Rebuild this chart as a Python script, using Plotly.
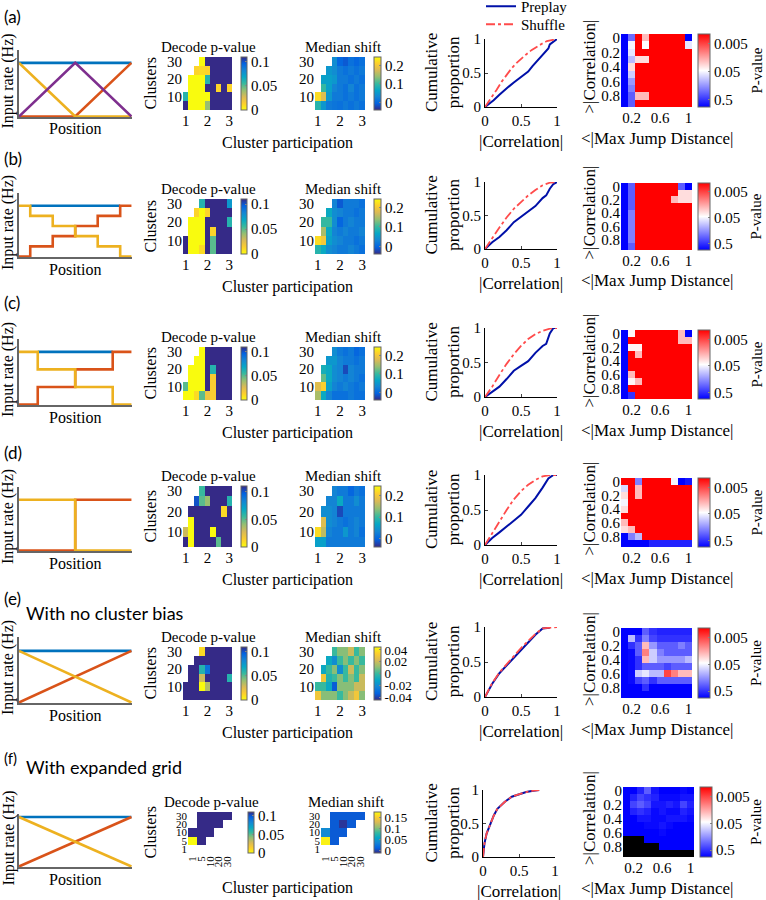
import plotly.graph_objects as go
import numpy as np

N = None
B = 0.12   # decode p-values above the colour range (dark blue)
W, H = 766, 900

# ---------------- data ----------------
PARTICIPATION = [1, 1.25, 1.5, 1.75, 2, 2.25, 2.5, 2.75, 3]
CLUSTERS = [5, 10, 15, 20, 25, 30]
GRID_F = [0, 1, 2, 3, 4]
GRID_F_LABELS = ['1', '5', '10', '20', '30']
JUMP = [0.1, 0.2, 0.3, 0.4, 0.5, 0.6, 0.7, 0.8, 0.9, 1.0]
CORR = [0.0, 0.1, 0.2, 0.3, 0.4, 0.5, 0.6, 0.7, 0.8, 0.9]

# decode p-value (rows: clusters 5..30, cols: participation 1..3)
DECODE_A = [[B, 0.0, 0.0, 0.0, 0.04, B, B, B, B],
            [0.06, 0.0, 0.0, 0.0, 0.0, B, B, B, B],
            [N, 0.0, 0.0, 0.0, B, B, 0.012, B, 0.012],
            [N, 0.0, 0.0, 0.0, 0.06, B, B, B, B],
            [N, N, 0.012, 0.01, 0.012, B, B, B, B],
            [N, N, N, 0.0, B, B, B, B, B]]
DECODE_B = [[B, 0.0, 0.0, 0.01, B, 0.05, B, B, B],
            [B, 0.0, 0.0, 0.0, B, 0.05, B, B, B],
            [N, 0.0, 0.0, 0.0, B, 0.012, B, B, B],
            [N, 0.0, 0.0, 0.0, B, B, B, B, 0.06],
            [N, N, 0.012, 0.0, 0.012, B, B, B, B],
            [N, N, N, 0.06, B, B, B, B, 0.075]]
DECODE_C = [[0.0, 0.0, 0.01, 0.05, 0.02, 0.015, B, B, B],
            [0.05, 0.0, 0.0, 0.0, B, 0.015, B, B, B],
            [N, 0.0, 0.0, 0.0, B, 0.015, B, B, B],
            [N, 0.0, 0.0, 0.0, B, 0.06, B, B, B],
            [N, N, 0.0, 0.0, B, B, B, B, B],
            [N, N, N, 0.0, B, B, B, B, B]]
DECODE_D = [[B, 0.0, B, B, B, B, 0.05, B, B],
            [0.03, 0.0, B, B, B, 0.0, B, B, B],
            [N, 0.0, B, B, B, B, B, B, B],
            [N, B, B, B, B, B, B, 0.01, B],
            [N, N, 0.1, 0.05, 0.04, B, B, B, 0.06],
            [N, N, N, 0.055, B, B, B, B, B]]
DECODE_E = [[B, B, B, B, B, B, B, B, B],
            [B, B, B, 0.0, 0.035, B, B, B, B],
            [N, B, B, 0.03, B, B, B, B, 0.06],
            [N, B, B, 0.06, 0.09, B, B, B, B],
            [N, N, B, B, B, B, B, B, B],
            [N, N, N, 0.01, B, B, B, B, B]]
DECODE_F = [[N, N, N, N, N],
            [0.0, B, N, N, N],
            [B, B, B, N, N],
            [N, B, B, B, N],
            [N, B, B, B, B]]

# median shift
MEDIAN_A = [[0.09, 0.05, 0.02, 0.015, 0.01, 0.02, 0.01, 0.02, 0.01],
            [0.22, 0.18, 0.05, 0.02, 0.02, 0.01, 0.02, 0.01, 0.02],
            [N, 0.1, 0.06, 0.03, 0.02, 0.01, 0.03, 0.01, 0.02],
            [N, 0.06, 0.06, 0.05, 0.02, 0.02, 0.01, 0.02, 0.01],
            [N, N, 0.05, 0.04, 0.02, 0.01, 0.02, 0.01, 0.02],
            [N, N, N, 0.04, 0.0, -0.01, 0.01, 0.0, 0.01]]
MEDIAN_B = [[0.09, 0.07, 0.04, 0.03, 0.02, 0.02, 0.03, 0.02, 0.01],
            [0.22, 0.2, 0.06, 0.04, 0.03, 0.02, 0.02, 0.01, 0.02],
            [N, 0.15, 0.07, 0.03, 0.02, 0.03, 0.02, 0.02, 0.03],
            [N, 0.1, 0.1, 0.04, 0.0, 0.02, 0.03, 0.02, 0.02],
            [N, N, 0.07, 0.04, 0.03, 0.02, 0.02, 0.01, 0.02],
            [N, N, N, 0.03, -0.01, 0.02, 0.02, 0.02, 0.01]]
MEDIAN_C = [[0.15, 0.07, 0.03, 0.01, 0.01, 0.01, 0.02, 0.01, 0.01],
            [0.18, 0.21, 0.06, 0.03, 0.02, 0.03, 0.02, 0.01, 0.02],
            [N, 0.12, 0.07, 0.04, 0.03, 0.02, 0.03, 0.02, 0.01],
            [N, 0.08, 0.07, 0.04, 0.03, -0.02, 0.03, 0.02, 0.02],
            [N, N, 0.05, 0.05, 0.03, 0.02, 0.02, 0.01, 0.02],
            [N, N, N, 0.04, 0.02, 0.01, 0.02, 0.0, 0.01]]
MEDIAN_D = [[0.06, 0.06, 0.02, 0.02, 0.02, 0.02, 0.02, 0.02, 0.02],
            [0.22, 0.16, 0.03, 0.02, 0.02, 0.05, 0.02, 0.03, 0.01],
            [N, 0.18, 0.04, 0.03, 0.02, 0.01, 0.02, 0.03, 0.02],
            [N, 0.04, 0.04, 0.03, -0.02, 0.02, 0.02, 0.02, 0.02],
            [N, N, 0.03, 0.03, 0.07, 0.02, 0.02, 0.04, 0.02],
            [N, N, N, 0.03, 0.02, 0.02, 0.0, 0.02, 0.01]]
MEDIAN_E = [[0.03, 0.01, 0.01, 0.01, 0.0, 0.01, 0.02, 0.03, 0.01],
            [0.0, 0.0, -0.01, -0.035, 0.01, 0.01, 0.01, 0.02, 0.02],
            [N, 0.03, -0.005, 0.0, 0.01, 0.0, 0.01, 0.0, 0.02],
            [N, -0.01, 0.0, 0.01, -0.02, 0.0, 0.02, 0.0, 0.01],
            [N, N, -0.01, -0.02, 0.0, 0.01, 0.0, 0.01, 0.0],
            [N, N, N, 0.0, 0.01, 0.01, 0.02, 0.0, 0.01]]
MEDIAN_F = [[N, N, N, N, N],
            [0.17, 0.01, N, N, N],
            [0.04, 0.01, 0.01, N, N],
            [N, 0.01, -0.005, 0.01, N],
            [N, 0.01, 0.01, 0.01, 0.01]]

# p-value maps (rows: |correlation| 0..0.9, cols: jump 0.1..1.0)
R = 0.001
PVAL_A = [[0.9, 0.25, R, 0.02, R, R, R, R, R, 0.9],
          [0.9, 0.05, R, 0.045, R, R, R, R, R, 0.06],
          [0.9, 0.06, R, R, R, R, R, R, R, R],
          [0.9, 0.1, 0.03, 0.03, R, R, R, R, R, R],
          [0.9, 0.03, R, R, R, R, R, R, R, R],
          [0.9, 0.08, R, R, R, R, R, R, R, R],
          [0.9, 0.15, R, R, R, R, R, R, R, R],
          [0.9, 0.2, R, R, R, R, R, R, R, R],
          [0.9, 0.3, 0.02, 0.02, R, R, R, R, R, R],
          [0.9, 0.3, R, R, R, R, R, R, R, R]]
PVAL_B = [[0.9, 0.3, R, R, R, R, R, R, 0.3, 0.9],
          [0.9, 0.3, R, R, R, R, R, R, 0.03, 0.03],
          [0.9, 0.3, R, R, R, R, R, 0.02, 0.03, 0.03],
          [0.9, 0.3, R, R, R, R, R, R, R, R],
          [0.9, 0.2, R, R, R, R, R, R, R, R],
          [0.9, 0.2, R, R, R, R, R, R, R, R],
          [0.9, 0.2, R, R, R, R, R, R, R, R],
          [0.9, 0.2, R, R, R, R, R, R, R, R],
          [0.9, 0.2, R, R, R, R, R, R, R, R],
          [0.9, 0.3, R, R, R, R, R, R, R, R]]
PVAL_C = [[0.9, 0.04, R, R, R, R, R, R, 0.02, 0.9],
          [0.9, R, R, R, R, R, R, R, 0.02, 0.02],
          [0.9, 0.04, 0.04, R, R, R, R, R, R, R],
          [0.9, R, 0.02, R, R, R, R, R, R, R],
          [0.9, R, R, R, R, R, R, R, R, R],
          [0.9, R, R, R, R, R, R, R, R, R],
          [0.9, 0.02, R, R, R, R, R, R, R, R],
          [0.9, 0.04, 0.02, R, R, R, R, R, R, R],
          [0.9, R, R, R, R, R, R, R, R, R],
          [0.9, 0.5, R, R, R, R, R, R, R, R]]
PVAL_D = [[R, R, 0.2, R, R, R, R, 0.05, 0.9, 0.7],
          [0.07, R, 0.02, R, R, R, R, R, R, R],
          [0.03, R, 0.02, R, R, R, R, R, R, R],
          [0.05, R, R, R, R, R, R, R, R, R],
          [0.03, R, R, R, R, R, R, R, R, R],
          [R, R, R, R, R, R, R, R, R, R],
          [0.02, R, R, R, R, R, R, R, R, R],
          [0.03, 0.02, R, R, R, R, R, R, R, R],
          [0.9, 0.2, 0.1, R, R, R, R, R, R, R],
          [0.9, 0.9, 0.9, 0.9, 0.6, 0.6, 0.6, 0.6, 0.6, 0.6]]
PVAL_E = [[0.9, 0.9, 0.9, 0.3, 0.5, 0.6, 0.6, 0.6, 0.6, 0.6],
          [0.9, 0.1, 0.5, 0.2, 0.4, 0.5, 0.5, 0.5, 0.5, 0.5],
          [0.9, 0.5, 0.3, 0.02, 0.15, 0.3, 0.3, 0.3, 0.2, 0.3],
          [0.9, 0.8, 0.3, 0.01, 0.08, 0.2, 0.3, 0.3, 0.3, 0.3],
          [0.9, 0.8, 0.5, 0.02, 0.08, 0.15, 0.15, 0.15, 0.15, 0.1],
          [0.9, 0.8, 0.5, 0.3, 0.3, 0.3, 0.4, 0.3, 0.3, 0.3],
          [0.9, 0.8, 0.08, 0.06, 0.1, 0.1, 0.005, 0.01, 0.02, 0.02],
          [0.9, 0.8, 0.4, 0.3, 0.5, 0.3, 0.3, 0.3, 0.3, 0.3],
          [0.9, 0.9, 0.9, 0.5, 0.9, 0.9, 0.9, 0.9, 0.9, 0.9],
          [0.9, 0.9, 0.9, 0.9, 0.9, 0.9, 0.9, 0.9, 0.9, 0.9]]
PVAL_F = [[0.9, 0.9, 0.6, 0.3, 0.7, 0.9, 0.9, 0.9, 0.8, 0.9],
          [0.9, 0.6, 0.4, 0.5, 0.6, 0.8, 0.8, 0.8, 0.7, 0.7],
          [0.9, 0.4, 0.3, 0.4, 0.7, 0.7, 0.6, 0.7, 0.4, 0.6],
          [0.9, 0.6, 0.5, 0.6, 0.8, 0.7, 0.8, 0.8, 0.6, 0.7],
          [0.9, 0.9, 0.7, 0.7, 0.8, 0.8, 0.7, 0.7, 0.7, 0.8],
          [0.9, 0.9, 0.9, 0.8, 0.8, 0.7, 0.8, 0.9, 0.9, 0.9],
          [0.9, 0.9, 0.9, 0.9, 0.9, 0.8, 0.9, 0.9, 0.9, 0.9],
          [N, N, N, 0.9, 0.9, 0.9, 0.9, 0.9, 0.9, 0.9],
          [N, N, N, N, N, 0.9, 0.9, 0.9, 0.9, 0.9],
          [N, N, N, N, N, N, N, N, N, N]]

# cumulative proportions
PRE_A_X = [0, 0.05, 0.12, 0.2, 0.26, 0.33, 0.4, 0.45, 0.51, 0.56, 0.6, 0.66, 0.72, 0.78, 0.84, 0.88, 0.9, 0.95, 0.97, 1.0]
PRE_A_Y = [0, 0.04, 0.1, 0.18, 0.24, 0.3, 0.36, 0.4, 0.44, 0.48, 0.52, 0.6, 0.67, 0.73, 0.8, 0.86, 0.92, 0.96, 0.98, 1.0]
SHF_A_X = [0, 0.08, 0.16, 0.23, 0.3, 0.37, 0.44, 0.51, 0.58, 0.65, 0.72, 0.79, 0.86, 0.93, 1.0]
SHF_A_Y = [0, 0.12, 0.25, 0.37, 0.47, 0.57, 0.65, 0.72, 0.78, 0.84, 0.89, 0.93, 0.97, 0.99, 1.0]
PRE_B_X = [0, 0.05, 0.1, 0.2, 0.3, 0.4, 0.45, 0.5, 0.6, 0.7, 0.8, 0.85, 0.9, 0.95, 1.0]
PRE_B_Y = [0, 0.05, 0.1, 0.18, 0.28, 0.4, 0.44, 0.48, 0.56, 0.64, 0.76, 0.8, 0.9, 0.97, 1.0]
SHF_B_X = [0, 0.1, 0.2, 0.3, 0.4, 0.5, 0.6, 0.7, 0.8, 0.9, 1.0]
SHF_B_Y = [0, 0.17, 0.32, 0.47, 0.6, 0.7, 0.8, 0.88, 0.95, 0.99, 1.0]
PRE_C_X = [0, 0.05, 0.1, 0.2, 0.3, 0.4, 0.5, 0.6, 0.7, 0.8, 0.85, 0.9, 0.95, 1.0]
PRE_C_Y = [0, 0.04, 0.08, 0.15, 0.26, 0.38, 0.45, 0.52, 0.64, 0.74, 0.77, 0.92, 1.0, 1.0]
SHF_C_X = [0, 0.1, 0.2, 0.3, 0.4, 0.5, 0.6, 0.7, 0.8, 0.9, 1.0]
SHF_C_Y = [0, 0.15, 0.32, 0.48, 0.62, 0.74, 0.84, 0.91, 0.96, 0.99, 1.0]
PRE_D_X = [0, 0.05, 0.1, 0.2, 0.3, 0.4, 0.5, 0.6, 0.7, 0.8, 0.88, 0.95, 1.0]
PRE_D_Y = [0, 0.05, 0.1, 0.18, 0.26, 0.34, 0.43, 0.55, 0.67, 0.82, 0.95, 1.0, 1.0]
SHF_D_X = [0, 0.1, 0.2, 0.3, 0.4, 0.5, 0.6, 0.7, 0.8, 0.9, 1.0]
SHF_D_Y = [0, 0.17, 0.33, 0.5, 0.65, 0.77, 0.86, 0.93, 0.98, 1.0, 1.0]
PRE_E_X = [0, 0.1, 0.2, 0.3, 0.4, 0.5, 0.6, 0.7, 0.8, 0.9]
PRE_E_Y = [0, 0.19, 0.34, 0.45, 0.56, 0.68, 0.79, 0.89, 0.98, 0.99]
SHF_E_X = [0, 0.1, 0.2, 0.3, 0.4, 0.5, 0.6, 0.7, 0.8, 0.9, 1.0]
SHF_E_Y = [0, 0.2, 0.35, 0.47, 0.59, 0.7, 0.8, 0.9, 0.98, 0.99, 1.0]
PRE_F_X = [0, 0.02, 0.05, 0.1, 0.15, 0.2, 0.3, 0.4, 0.5, 0.6, 0.7, 0.78]
PRE_F_Y = [0, 0.2, 0.35, 0.5, 0.62, 0.72, 0.82, 0.9, 0.94, 0.97, 0.99, 1.0]
SHF_F_X = [0, 0.02, 0.05, 0.1, 0.15, 0.2, 0.3, 0.4, 0.5, 0.6, 0.7, 0.78]
SHF_F_Y = [0, 0.2, 0.35, 0.5, 0.62, 0.72, 0.82, 0.9, 0.94, 0.97, 0.99, 1.0]

# schematic input-rate profiles: (colour, x, y)
BLUE, ORANGE, YELLOW, PURPLE = '#0072BD', '#D95319', '#EDB120', '#7E2F8E'
SCHEMA_A = [(BLUE, [0, 1], [1, 1]), (ORANGE, [0, 0.5, 1], [0, 0, 1]),
            (YELLOW, [0, 0.5, 1], [1, 0, 0]), (PURPLE, [0, 0.5, 1], [0, 1, 0])]
SCHEMA_B = [(BLUE, [0.1, 0.9], [1, 1]),
            (ORANGE, [0, 0.1, 0.1, 0.3, 0.3, 0.5, 0.5, 0.7, 0.7, 0.9, 0.9, 1],
             [0, 0, 0.2, 0.2, 0.4, 0.4, 0.6, 0.6, 0.8, 0.8, 1, 1]),
            (YELLOW, [0, 0.1, 0.1, 0.3, 0.3, 0.5, 0.5, 0.7, 0.7, 0.9, 0.9, 1],
             [1, 1, 0.8, 0.8, 0.6, 0.6, 0.4, 0.4, 0.2, 0.2, 0, 0])]
SCHEMA_C = [(BLUE, [1/6, 5/6], [1, 1]),
            (ORANGE, [0, 1/6, 1/6, 0.5, 0.5, 5/6, 5/6, 1], [0, 0, 1/3, 1/3, 2/3, 2/3, 1, 1]),
            (YELLOW, [0, 1/6, 1/6, 0.5, 0.5, 5/6, 5/6, 1], [1, 1, 2/3, 2/3, 1/3, 1/3, 0, 0])]
SCHEMA_D = [(ORANGE, [0, 0.5, 0.5, 1], [0, 0, 1, 1]),
            (YELLOW, [0, 0.5, 0.5, 1], [1, 1, 0, 0])]
SCHEMA_E = [(BLUE, [0, 1], [1, 1]), (ORANGE, [0, 1], [0, 1]), (YELLOW, [0, 1], [1, 0])]
SCHEMA_F = [(BLUE, [0, 1], [1, 1]), (ORANGE, [0, 1], [0, 1]), (YELLOW, [0, 1], [1, 0])]

# ---------------- styling ----------------
SERIF = "Liberation Serif"
SANS = "Lato"
PARULA = [[0, '#352a87'], [0.125, '#0363e1'], [0.25, '#1485d4'], [0.375, '#06a7c6'],
          [0.5, '#38b99e'], [0.625, '#92bf73'], [0.75, '#d9ba56'], [0.875, '#fcce2e'], [1, '#f9fb0e']]
PARULA_R = [[1 - s, c] for s, c in PARULA[::-1]]
BWR = [[0, '#0000FF'], [0.5, '#FFFFFF'], [1, '#FF0000']]
TICKF = dict(family=SERIF, size=15, color='black')

fig = go.Figure()
_n = [0]


def axes(x0, x1, y0, y1, xopt, yopt):
    _n[0] += 1
    s = '' if _n[0] == 1 else str(_n[0])
    base = dict(showgrid=False, zeroline=False)
    xo = dict(base, tickfont=TICKF)
    xo.update(xopt)
    yo = dict(base, tickfont=TICKF)
    yo.update(yopt)
    fig.update_layout(**{
        'xaxis' + s: dict(domain=[x0 / W, x1 / W], anchor='y' + s, **xo),
        'yaxis' + s: dict(domain=[1 - y1 / H, 1 - y0 / H], anchor='x' + s, **yo),
    })
    return 'x' + s, 'y' + s


def text(x, y, s, size=16, angle=0, family=SERIF, xanchor='center'):
    fig.add_annotation(x=x / W, y=1 - y / H, xref='paper', yref='paper', text=s,
                       showarrow=False, textangle=angle, xanchor=xanchor, yanchor='middle',
                       font=dict(family=family, size=size, color='black'))


def cbar(x0, y0, y1, vals, labels, thick=6, size=15):
    return dict(x=x0 / W, xanchor='left', y=1 - (y0 + y1) / 2 / H, yanchor='middle',
                len=(y1 - y0) / H, lenmode='fraction', thickness=thick, thicknessmode='pixels',
                xpad=0, ypad=0, outlinewidth=1, outlinecolor='#666', tickvals=vals, ticktext=labels,
                ticks='inside', ticklen=2, tickcolor='#888',
                tickfont=dict(family=SERIF, size=size, color='black'))


def nan(m):
    return np.array([[np.nan if v is None else v for v in r] for r in m], dtype=float)


ROWS = [
    dict(lab='(a)', ly=17, sch=(50, 117), hm=(57, 110), cum=(39, 107), pv=(34, 107),
         schema=SCHEMA_A, dec=DECODE_A, med=MEDIAN_A, pval=PVAL_A,
         pre=(PRE_A_X, PRE_A_Y), shf=(SHF_A_X, SHF_A_Y), top=1.24,
         medr=(-0.04, 0.245), medt=[0, 0.1, 0.2], medl=['0', '0.1', '0.2']),
    dict(lab='(b)', ly=158, sch=(193, 257), hm=(199, 254), cum=(182, 249), pv=(183, 250),
         schema=SCHEMA_B, dec=DECODE_B, med=MEDIAN_B, pval=PVAL_B,
         pre=(PRE_B_X, PRE_B_Y), shf=(SHF_B_X, SHF_B_Y), top=1.25,
         medr=(-0.04, 0.245), medt=[0, 0.1, 0.2], medl=['0', '0.1', '0.2']),
    dict(lab='(c)', ly=302, sch=(339, 405), hm=(347, 400), cum=(328, 397), pv=(330, 399),
         schema=SCHEMA_C, dec=DECODE_C, med=MEDIAN_C, pval=PVAL_C,
         pre=(PRE_C_X, PRE_C_Y), shf=(SHF_C_X, SHF_C_Y), top=1.245,
         medr=(-0.04, 0.245), medt=[0, 0.1, 0.2], medl=['0', '0.1', '0.2']),
    dict(lab='(d)', ly=452, sch=(487, 551), hm=(486, 547), cum=(475, 545), pv=(478, 547),
         schema=SCHEMA_D, dec=DECODE_D, med=MEDIAN_D, pval=PVAL_D,
         pre=(PRE_D_X, PRE_D_Y), shf=(SHF_D_X, SHF_D_Y), top=1.25,
         medr=(-0.04, 0.245), medt=[0, 0.1, 0.2], medl=['0', '0.1', '0.2']),
    dict(lab='(e)', ly=598, sch=(637, 703), hm=(647, 700), cum=(627, 697), pv=(628, 698),
         schema=SCHEMA_E, dec=DECODE_E, med=MEDIAN_E, pval=PVAL_E,
         pre=(PRE_E_X, PRE_E_Y), shf=(SHF_E_X, SHF_E_Y), top=1.27,
         medr=(-0.045, 0.045), medt=[-0.04, -0.02, 0, 0.02, 0.04],
         medl=['-0.04', '-0.02', '0', '0.02', '0.04']),
    dict(lab='(f)', ly=758, sch=(814, 867), hm=(812, 853), cum=(790, 857), pv=(787, 857),
         schema=SCHEMA_F, dec=DECODE_F, med=MEDIAN_F, pval=PVAL_F,
         pre=(PRE_F_X, PRE_F_Y), shf=(SHF_F_X, SHF_F_Y), top=1.06,
         medr=(-0.01, 0.175), medt=[0, 0.05, 0.1, 0.15], medl=['0', '0.05', '0.1', '0.15']),
]

LOGP_T = [-np.log10(0.5), -np.log10(0.05), -np.log10(0.005)]

for i, r in enumerate(ROWS):
    grid = (r['lab'] == '(f)')
    text(2, r['ly'], r['lab'], size=17 if not grid else 15, family=SANS, xanchor='left')

    # --- schematic ---
    s0, s1 = r['sch']
    xa, ya = axes(19, 132, s0, s1,
                  dict(range=[0, 1.005], showline=True, linecolor='#666', linewidth=1.5,
                       showticklabels=False, ticks=''),
                  dict(range=[-0.01, r['top']], showline=True, linecolor='#666', linewidth=1.5,
                       showticklabels=False, ticks=''))
    for col, xs, ys in r['schema']:
        fig.add_trace(go.Scatter(x=xs, y=ys, mode='lines', line=dict(color=col, width=2.6),
                                 xaxis=xa, yaxis=ya, showlegend=False, hoverinfo='skip'))
    text(8, (s0 + s1) / 2 - 2, 'Input rate (Hz)', angle=-90)
    text(75, s1 + 12, 'Position')

    # --- decode / median heatmaps ---
    h0, h1 = r['hm']
    if grid:
        hx = GRID_F
        hy = GRID_F
        gf = dict(family=SERIF, size=11, color='black')
        xopt = dict(range=[-0.5, 4.5], tickvals=GRID_F, ticktext=GRID_F_LABELS, tickangle=-90,
                    ticks='', showline=False, tickfont=gf)
        yopt = dict(range=[-0.5, 4.5], tickvals=GRID_F, ticktext=GRID_F_LABELS, ticks='',
                    showline=False, tickfont=gf)
        dx0, dx1, mx0, mx1 = 188, 232, 321, 365
        dcb, mcb = 248, 374
    else:
        hx = PARTICIPATION
        hy = CLUSTERS
        xopt = dict(range=[0.875, 3.125], tickvals=[1, 2, 3], ticks='', showline=False)
        yopt = dict(range=[2.5, 32.5], tickvals=[10, 20, 30], ticks='', showline=False)
        dx0, dx1, mx0, mx1 = 183, 232, 315, 365
        dcb, mcb = 241, 374

    xa, ya = axes(dx0, dx1, h0, h1, xopt, yopt)
    fig.add_trace(go.Heatmap(x=hx, y=hy, z=nan(r['dec']), zmin=0, zmax=0.11,
                             colorscale=PARULA_R, xaxis=xa, yaxis=ya, hoverinfo='skip',
                             colorbar=cbar(dcb, h0, h1, [0, 0.05, 0.1], ['0', '0.05', '0.1'])))
    xa, ya = axes(mx0, mx1, h0, h1, xopt, yopt)
    msize = 13 if r['lab'] in ('(e)', '(f)') else 15
    fig.add_trace(go.Heatmap(x=hx, y=hy, z=nan(r['med']), zmin=r['medr'][0], zmax=r['medr'][1],
                             colorscale=PARULA, xaxis=xa, yaxis=ya, hoverinfo='skip',
                             colorbar=cbar(mcb, h0, h1, r['medt'], r['medl'], thick=7, size=msize)))
    text((dx0 + dx1) / 2 + 1, h0 - 10, 'Decode p-value', size=15)
    text((mx0 + mx1) / 2 + 3, h0 - 10, 'Median shift', size=15)
    text(150, (h0 + h1) / 2, 'Clusters', angle=-90)
    text(287, h1 + (35 if grid else 33), 'Cluster participation')

    # --- cumulative ---
    c0, c1 = r['cum']
    cx0, cx1 = (483, 555) if grid else (485, 557)
    xa, ya = axes(cx0, cx1, c0, c1,
                  dict(range=[0, 1], tickvals=[0, 0.5, 1], ticktext=['0', '0.5', '1'],
                       showline=True, linecolor='black', linewidth=1, ticks='inside', ticklen=3),
                  dict(range=[0, 1], tickvals=[0, 0.5, 1], ticktext=['0', '0.5', '1'],
                       showline=True, linecolor='black', linewidth=1, ticks='inside', ticklen=3))
    fig.add_trace(go.Scatter(x=r['pre'][0], y=r['pre'][1], mode='lines', name='Preplay',
                             line=dict(color='#0010A8', width=2), xaxis=xa, yaxis=ya,
                             showlegend=(i == 0), legend='legend', hoverinfo='skip'))
    fig.add_trace(go.Scatter(x=r['shf'][0], y=r['shf'][1], mode='lines', name='Shuffle',
                             line=dict(color='#FF4B4B', width=1.8, dash='dashdot'), xaxis=xa,
                             yaxis=ya, showlegend=(i == 0), legend='legend2', hoverinfo='skip'))
    text(442, (c0 + c1) / 2, 'Cumulative<br>proportion', size=17, angle=-90)
    text((cx0 + cx1) / 2, c1 + 34, '|Correlation|', size=17)

    # --- p-value map ---
    p0, p1 = r['pv']
    px0, px1 = (623, 694) if grid else (621, 692)
    xa, ya = axes(px0, px1, p0, p1,
                  dict(range=[0.05, 1.05], tickvals=[0.2, 0.6, 1], ticktext=['0.2', '0.6', '1'],
                       ticks='', showline=False),
                  dict(range=[0.95, -0.05], tickvals=[0, 0.2, 0.4, 0.6, 0.8],
                       ticktext=['0', '0.2', '0.4', '0.6', '0.8'], ticks='', showline=False))
    pm = nan(r['pval'])
    fig.add_trace(go.Heatmap(x=JUMP, y=CORR, z=-np.log10(pm), zmin=0.05, zmax=2.65,
                             colorscale=BWR, xaxis=xa, yaxis=ya, hoverinfo='skip',
                             colorbar=cbar(px1 + 6, p0, p1, LOGP_T, ['0.5', '0.05', '0.005'],
                                           thick=12)))
    if np.isnan(pm).any():
        fig.add_trace(go.Heatmap(x=JUMP, y=CORR, z=np.where(np.isnan(pm), 1.0, np.nan),
                                 zmin=0, zmax=1, colorscale=[[0, 'black'], [1, 'black']],
                                 showscale=False, xaxis=xa, yaxis=ya, hoverinfo='skip'))
    text(589, (p0 + p1) / 2 - 4, '>|Correlation|', size=17, angle=-90)
    text(756, (p0 + p1) / 2, 'P-value', size=15, angle=-90)
    text(657, p1 + 31, '<|Max Jump Distance|', size=17)

text(24, 613, 'With no cluster bias', size=18, family=SANS, xanchor='left')
text(24, 767, 'With expanded grid', size=18, family=SANS, xanchor='left')

LEG = dict(xanchor='left', yanchor='top', font=dict(family=SERIF, size=15, color='black'),
           bgcolor='rgba(0,0,0,0)', itemwidth=30)
fig.update_layout(
    width=W, height=H, margin=dict(l=0, r=0, t=0, b=0, autoexpand=False),
    paper_bgcolor='white', plot_bgcolor='rgba(0,0,0,0)',
    showlegend=True,
    legend=dict(LEG, x=481 / W, y=1 + 10 / H),
    legend2=dict(LEG, x=481 / W, y=1 - 8 / H),
)
fig.write_html("out.html", config={'displayModeBar': False},
               post_script="document.body.style.margin='0px';")
